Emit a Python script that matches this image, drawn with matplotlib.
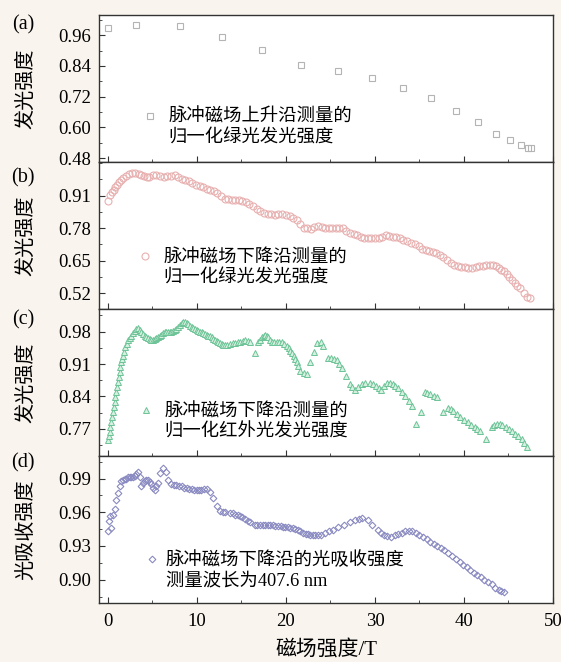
import matplotlib.pyplot as plt
from matplotlib.lines import Line2D
from matplotlib.font_manager import FontProperties
from matplotlib.ticker import MultipleLocator

# ---- data ----
# (a) rising edge, green luminescence
xa = [0, 3.1, 8.1, 12.8, 17.35, 21.7, 25.8, 29.7, 33.2, 36.3, 39.1, 41.6, 43.6,
      45.2, 46.4, 47.2, 47.5]
ya = [0.989, 1.001, 0.994, 0.951, 0.901, 0.845, 0.820, 0.793, 0.753, 0.716,
      0.664, 0.619, 0.574, 0.549, 0.531, 0.518, 0.518]

# (b) falling edge, green luminescence
xb = [0.0, 0.25, 0.45, 0.65, 0.85, 1.05, 1.25, 1.45, 1.75, 2.06, 2.35, 2.66,
      3.05, 3.46, 3.75, 4.07, 4.37, 4.67, 5.07, 5.45, 5.88, 6.3, 6.68, 7.1,
      7.49, 7.9, 8.29, 8.7, 9.1, 9.5, 9.9, 10.3, 10.7, 11.1, 11.5, 11.9, 12.3,
      12.7, 13.1, 13.5, 13.9, 14.3, 14.7, 15.1, 15.5, 15.9, 16.3, 16.7, 17.1,
      17.5, 17.95, 18.35, 18.75, 19.15, 19.56, 20.0, 20.4, 20.8, 21.2, 21.6,
      22.0, 22.4, 22.8, 23.2, 23.6, 24.0, 24.4, 24.8, 25.2, 25.6, 26.0, 26.4,
      26.8, 27.2, 27.6, 28.0, 28.4, 28.8, 29.2, 29.6, 30.0, 30.4, 30.8, 31.2,
      31.6, 32.0, 32.4, 32.8, 33.2, 33.6, 34.05, 34.5, 34.9, 35.3, 35.7, 36.1,
      36.5, 36.9, 37.3, 37.7, 38.1, 38.5, 38.9, 39.3, 39.7, 40.1, 40.5, 40.9,
      41.3, 41.7, 42.1, 42.5, 42.9, 43.3, 43.6, 43.9, 44.2, 44.5, 44.8, 45.1,
      45.4, 45.7, 46.0, 46.3, 46.7, 47.1, 47.45]
yb = [0.890, 0.914, 0.925, 0.934, 0.944, 0.954, 0.964, 0.974, 0.981, 0.987,
      0.995, 1.001, 1.000, 0.998, 0.992, 0.987, 0.984, 0.983, 0.994, 0.991,
      0.987, 0.986, 0.987, 0.990, 0.991, 0.985, 0.978, 0.972, 0.967, 0.960,
      0.954, 0.948, 0.943, 0.938, 0.934, 0.928, 0.921, 0.908, 0.898, 0.896,
      0.894, 0.894, 0.894, 0.890, 0.885, 0.876, 0.867, 0.857, 0.847, 0.841,
      0.837, 0.835, 0.834, 0.836, 0.837, 0.832, 0.827, 0.821, 0.814, 0.797,
      0.780, 0.779, 0.778, 0.783, 0.787, 0.783, 0.780, 0.780, 0.780, 0.780,
      0.780, 0.780, 0.770, 0.760, 0.755, 0.751, 0.745, 0.740, 0.740, 0.740,
      0.740, 0.740, 0.746, 0.751, 0.748, 0.746, 0.743, 0.740, 0.734, 0.727,
      0.721, 0.716, 0.707, 0.698, 0.692, 0.687, 0.683, 0.680, 0.672, 0.663,
      0.651, 0.640, 0.633, 0.627, 0.625, 0.623, 0.621, 0.620, 0.624, 0.627,
      0.629, 0.631, 0.632, 0.633, 0.627, 0.620, 0.614, 0.607, 0.595, 0.583,
      0.571, 0.560, 0.550, 0.540, 0.520, 0.506, 0.500]

# (c) falling edge, infrared luminescence
xc = [0.0, 0.1, 0.19, 0.28, 0.38, 0.47, 0.56, 0.65, 0.75, 0.85, 0.94, 1.03,
      1.13, 1.22, 1.32, 1.41, 1.5, 1.6, 1.69, 1.82, 1.95, 2.1, 2.25, 2.45,
      2.63, 2.8, 3.0, 3.2, 3.38, 3.57, 3.76, 3.95, 4.13, 4.32, 4.51, 4.7,
      4.88, 5.07, 5.26, 5.45, 5.64, 5.82, 6.01, 6.2, 6.39, 6.58, 6.76, 6.95,
      7.14, 7.33, 7.52, 7.7, 7.89, 8.08, 8.27, 8.46, 8.65, 8.84, 9.02, 9.21,
      9.4, 9.6, 9.77, 9.96, 10.15, 10.33, 10.52, 10.7, 10.9, 11.1, 11.27,
      11.46, 11.65, 11.84, 12.03, 12.2, 12.4, 12.6, 12.78, 12.96, 13.15, 13.43,
      13.72, 14.0, 14.28, 14.56, 14.85, 15.13, 15.41, 15.7, 15.97, 16.54, 16.9,
      17.1, 17.3, 17.5, 17.7, 17.87, 18.04, 18.23, 18.42, 18.7, 18.98, 19.27,
      19.55, 19.82, 20.1, 20.3, 20.5, 20.68, 20.86, 21.03, 21.2, 21.4, 21.6,
      22.0, 22.4, 22.7, 23.1, 23.5, 23.9, 24.2, 24.7, 25.1, 25.4, 25.7, 26.0,
      26.3, 26.75, 27.15, 27.45, 27.75, 28.1, 28.5, 28.9, 29.4, 29.75, 30.1,
      30.4, 30.7, 31.05, 31.4, 31.7, 32.0, 32.3, 32.6, 33.0, 33.4, 33.8, 34.2,
      34.6, 35.2, 35.6, 35.9, 36.2, 36.6, 37.0, 37.6, 38.2, 38.5, 38.8, 39.2,
      39.6, 40.0, 40.4, 40.8, 41.2, 41.5, 41.8, 42.5, 43.1, 43.4, 43.7, 44.0,
      44.3, 44.7, 45.1, 45.4, 45.7, 46.1, 46.5, 46.8, 47.1]
yc = [0.746, 0.755, 0.764, 0.775, 0.785, 0.796, 0.807, 0.818, 0.828, 0.839,
      0.850, 0.861, 0.871, 0.882, 0.893, 0.904, 0.914, 0.921, 0.928, 0.937,
      0.946, 0.953, 0.961, 0.966, 0.971, 0.977, 0.982, 0.985, 0.987, 0.983,
      0.979, 0.975, 0.971, 0.968, 0.966, 0.964, 0.963, 0.963, 0.964, 0.966,
      0.968, 0.970, 0.973, 0.977, 0.980, 0.980, 0.979, 0.979, 0.979, 0.981,
      0.984, 0.986, 0.989, 0.994, 0.999, 1.000, 1.001, 0.999, 0.996, 0.993,
      0.989, 0.987, 0.986, 0.984, 0.982, 0.980, 0.979, 0.977, 0.975, 0.973,
      0.971, 0.970, 0.968, 0.965, 0.963, 0.960, 0.958, 0.955, 0.953, 0.952,
      0.951, 0.952, 0.953, 0.955, 0.956, 0.957, 0.957, 0.959, 0.961, 0.959,
      0.957, 0.934, 0.958, 0.963, 0.968, 0.971, 0.973, 0.971, 0.968, 0.962,
      0.957, 0.958, 0.958, 0.957, 0.957, 0.954, 0.950, 0.945, 0.939, 0.933,
      0.928, 0.921, 0.914, 0.905, 0.896, 0.891, 0.889, 0.914, 0.936, 0.956,
      0.958, 0.950, 0.923, 0.922, 0.921, 0.919, 0.911, 0.902, 0.884, 0.866,
      0.860, 0.855, 0.860, 0.866, 0.868, 0.870, 0.866, 0.862, 0.858, 0.855,
      0.863, 0.870, 0.868, 0.866, 0.862, 0.859, 0.850, 0.841, 0.830, 0.820,
      0.781, 0.807, 0.850, 0.848, 0.845, 0.842, 0.838, 0.807, 0.816, 0.813,
      0.809, 0.802, 0.795, 0.790, 0.784, 0.779, 0.774, 0.770, 0.766, 0.749,
      0.774, 0.778, 0.781, 0.780, 0.778, 0.774, 0.770, 0.765, 0.759, 0.754,
      0.749, 0.740, 0.731]

# (d) falling edge, optical absorption at 407.6 nm
xd = [0.0, 0.11, 0.26, 0.38, 0.56, 0.75, 0.94, 1.13, 1.32, 1.5, 1.7, 1.88,
      2.05, 2.25, 2.45, 2.63, 2.8, 3.0, 3.2, 3.38, 3.57, 3.76, 3.95, 4.13,
      4.3, 4.5, 4.7, 4.88, 5.07, 5.26, 5.45, 5.64, 5.9, 6.2, 6.5, 6.76, 7.14,
      7.4, 7.7, 8.0, 8.27, 8.55, 8.83, 9.1, 9.4, 9.7, 9.96, 10.25, 10.5,
      10.8, 11.1, 11.5, 11.8, 12.2, 12.6, 12.9, 13.2, 13.7, 14.0, 14.3, 14.6,
      14.85, 15.1, 15.4, 15.7, 16.0, 16.5, 16.8, 17.1, 17.4, 17.7, 18.0,
      18.2, 18.5, 18.8, 19.1, 19.4, 19.7, 19.9, 20.2, 20.5, 20.8, 21.0, 21.3,
      21.6, 21.9, 22.2, 22.5, 22.7, 23.0, 23.3, 23.6, 23.9, 24.4, 24.85, 25.3,
      25.9, 26.5, 27.15, 27.8, 28.2, 28.6, 29.2, 29.7, 30.3, 30.65, 31.0,
      31.4, 31.8, 32.2, 32.6, 33.0, 33.4, 33.8, 34.2, 34.6, 35.0, 35.4, 35.8,
      36.2, 36.6, 37.0, 37.4, 37.8, 38.2, 38.65, 39.1, 39.5, 39.9, 40.3, 40.7,
      41.1, 41.5, 41.9, 42.3, 42.7, 43.1, 43.5, 43.9, 44.2, 44.5]
yd = [0.943, 0.952, 0.957, 0.946, 0.958, 0.963, 0.971, 0.977, 0.983, 0.988,
      0.989, 0.990, 0.990, 0.991, 0.991, 0.991, 0.991, 0.992, 0.994, 0.996,
      0.991, 0.983, 0.986, 0.988, 0.989, 0.989, 0.987, 0.985, 0.982, 0.980,
      0.983, 0.986, 0.995, 0.999, 0.996, 0.989, 0.985, 0.984, 0.984, 0.983,
      0.983, 0.982, 0.982, 0.981, 0.981, 0.980, 0.980, 0.980, 0.980, 0.981,
      0.981, 0.978, 0.973, 0.966, 0.961, 0.960, 0.960, 0.959, 0.959, 0.958,
      0.958, 0.957, 0.956, 0.954, 0.952, 0.951, 0.949, 0.949, 0.949, 0.949,
      0.949, 0.949, 0.949, 0.949, 0.948, 0.948, 0.948, 0.947, 0.947, 0.947,
      0.946, 0.946, 0.945, 0.944, 0.943, 0.942, 0.941, 0.941, 0.940, 0.940,
      0.940, 0.940, 0.940, 0.942, 0.943, 0.944, 0.947, 0.949, 0.951, 0.953,
      0.954, 0.955, 0.953, 0.949, 0.944, 0.942, 0.940, 0.939, 0.938, 0.940,
      0.941, 0.942, 0.943, 0.943, 0.943, 0.942, 0.940, 0.938, 0.936, 0.934,
      0.932, 0.930, 0.928, 0.926, 0.924, 0.921, 0.918, 0.916, 0.913, 0.911,
      0.909, 0.906, 0.904, 0.902, 0.900, 0.898, 0.896, 0.893, 0.891, 0.890,
      0.889]

panel_tags = ['(a)', '(b)', '(c)', '(d)']
ylabels = ['发光强度', '发光强度', '发光强度', '光吸收强度']
legend_lines = [['脉冲磁场上升沿测量的', '归一化绿光发光强度'],
                ['脉冲磁场下降沿测量的', '归一化绿光发光强度'],
                ['脉冲磁场下降沿测量的', '归一化红外光发光强度'],
                ['脉冲磁场下降沿的光吸收强度', '测量波长为407.6 nm']]
xlabel = '磁场强度/T'

# ---- styling ----
serif_cjk = ['Liberation Serif', 'Noto Sans CJK SC']
plt.rcParams['font.family'] = serif_cjk
plt.rcParams['axes.unicode_minus'] = False

bg = '#f9f4ed'
fig = plt.figure(figsize=(5.61, 6.62), dpi=100, facecolor=bg)
axes = fig.subplots(4, 1, sharex=True)
fig.subplots_adjust(left=0.1765, right=0.9857, top=0.9778, bottom=0.0887,
                    hspace=0)

series = [(xa, ya), (xb, yb), (xc, yc), (xd, yd)]
styles = [dict(marker='s', ms=4.0, mfc='none', mec='#b4b4b4', mew=0.8),
          dict(marker='o', ms=5.0, mfc='none', mec='#e8b0b0', mew=0.8),
          dict(marker='^', ms=5.0, mfc='#d6f1e1', mec='#6cc396', mew=0.7),
          dict(marker='D', ms=3.4, mfc='none', mec='#8a8ac2', mew=0.8)]
ylims = [(0.465, 1.040), (0.457, 1.045), (0.711, 1.029), (0.879, 1.010)]
yticks = [[0.48, 0.60, 0.72, 0.84, 0.96],
          [0.52, 0.65, 0.78, 0.91],
          [0.77, 0.84, 0.91, 0.98],
          [0.90, 0.93, 0.96, 0.99]]
yminor = [0.06, 0.065, 0.035, 0.015]
leg_anchor = [(0.097, 0.360), (0.086, 0.405), (0.088, 0.360), (0.101, 0.350)]
leg_pad = [0.6, 0.6, 0.6, 0.35]
tag_y = [25, 178, 320, 463]

leg_font = FontProperties(family=serif_cjk, size=13.2)
lab_font = FontProperties(family=['Noto Sans CJK SC'], size=14.5)

for i, ax in enumerate(axes):
    ax.set_facecolor('white')
    x, y = series[i]
    h, = ax.plot(x, y, ls='none', **styles[i], label=legend_lines[i][0])
    blank = Line2D([], [], ls='none', label=legend_lines[i][1])
    ax.legend(handles=[h, blank], loc='upper left',
              bbox_to_anchor=leg_anchor[i], frameon=False, prop=leg_font,
              handlelength=0.8, handletextpad=leg_pad[i], borderpad=0,
              borderaxespad=0, labelspacing=0.17)

    ax.set_ylim(*ylims[i])
    ax.set_yticks(yticks[i])
    ax.set_yticklabels(['%.2f' % v for v in yticks[i]])
    ax.yaxis.set_minor_locator(MultipleLocator(yminor[i]))
    ax.set_xlim(-1, 50)
    ax.xaxis.set_major_locator(MultipleLocator(10))
    ax.xaxis.set_minor_locator(MultipleLocator(5))
    ax.tick_params(which='both', direction='in', top=False, right=False,
                   labelsize=13.5, color='#333333')
    ax.tick_params(which='major', length=4)
    ax.tick_params(which='minor', length=2.5)
    ax.tick_params(axis='y', pad=6)
    for s in ax.spines.values():
        s.set_color('#333333')
        s.set_linewidth(1.0)

    ax.set_ylabel(ylabels[i], fontproperties=lab_font)
    ax.yaxis.set_label_coords(-0.139, 0.5)
    fig.text(23 / 561, 1 - tag_y[i] / 662, panel_tags[i], fontsize=14.5,
             ha='center', va='center', family='Liberation Serif')

axes[-1].tick_params(axis='x', pad=7)
axes[-1].set_xlabel(xlabel, fontsize=15, labelpad=7)

fig.savefig('out.png', dpi=100, facecolor=bg)
